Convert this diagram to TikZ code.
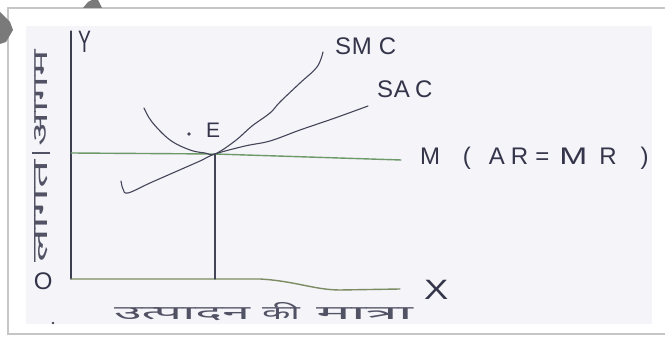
\documentclass[tikz,border=0pt]{standalone}
\usepackage{fontspec}
\setmainfont{Liberation Sans}
\newfontfamily\deva[Script=Devanagari]{Noto Sans}
\definecolor{pencil}{HTML}{45455A}
\definecolor{inktext}{HTML}{34344A}
\definecolor{inkgreen}{HTML}{6E9A6A}
\definecolor{axisgreen}{HTML}{7C8C62}
\definecolor{papertint}{HTML}{F4F4F9}
\definecolor{edgegray}{HTML}{C6C6C6}
\definecolor{shadow}{HTML}{7A7A7A}
\tikzset{
  curve/.style={draw=pencil, line width=1.1pt, line cap=round, line join=round},
  axisline/.style={draw=pencil!90!black, line width=1.3pt, line cap=round},
  mline/.style={draw=inkgreen, line width=1.4pt, line cap=round},
  xline/.style={draw=axisgreen, line width=1.4pt, line cap=round},
  hand/.style={inner sep=0pt, outer sep=0pt, text=inktext, anchor=base west},
  devtext/.style={inner sep=0pt, outer sep=0pt, text=inktext!85, anchor=base west}
}
\begin{document}
\begin{tikzpicture}[x=1pt,y=-1pt]
\useasboundingbox (0,0) rectangle (665,339);
% paper and scan
\fill[white] (0,0) rectangle (665,339);
\fill[papertint] (26,26) rectangle (652,324);
\draw[edgegray, line width=1.6pt] (665,8) -- (8,8) -- (8,334) -- (665,334);
\fill[shadow] (0,12) -- (10,22) -- (13,30) -- (6,42) -- (0,44) -- cycle;
\fill[shadow] (83,8) -- (88,2) -- (92,0) -- (98,0) -- (102,8) -- cycle;

% key points
\coordinate (O) at (71,279);
\coordinate (Ytop) at (71,31);
\coordinate (E) at (215,154);
\coordinate (Mstart) at (71,153);
\coordinate (Mend) at (401,160);
\coordinate (Xbend) at (260,279);
\coordinate (Xend) at (400,289);
\coordinate (Efoot) at (215,279);

% axes
\draw[axisline] (Ytop) -- (O);
\draw[xline] (O) -- (Xbend) .. controls (295,281) and (315,290) .. (340,290) -- (Xend);

% price line M (AR = MR)
\draw[mline] (Mstart) -- (E) -- (Mend);
% drop line
\draw[curve, line width=1.3pt] (E) -- (Efoot);

% SMC
\draw[curve] plot[smooth, tension=0.6] coordinates {(144,108) (152,122) (170,140) (190,150) (205,153) (215,154) (235,141) (252,126) (270,113) (280,102) (300,83) (317,67) (323,52)};
% SAC
\draw[curve] plot[smooth, tension=0.6] coordinates {(121,181) (123,189) (128,193) (150,183) (175,172) (200,161) (215,154) (245,146) (270,141) (300,130) (335,118) (368,106)};

% dots
\fill[pencil] (189,134) circle (1.8pt);
\fill[pencil] (53,323) circle (1.3pt);

% labels
\node[hand, font=\fontsize{31}{31}\selectfont] (ylab) at (78,53) {\scalebox{0.62}[1]{Y}};
\node[hand, font=\fontsize{28}{28}\selectfont] (xlab) at (424,300) {\scalebox{1.3}[1]{X}};
\node[hand, font=\fontsize{24}{24}\selectfont] (olab) at (34,290) {O};
\node[hand, font=\fontsize{21}{21}\selectfont] (elab) at (206,138) {E};
\node[hand, font=\fontsize{24}{24}\selectfont] (smc) at (335,55) {S\hspace{1pt}M\hspace{7pt}C};
\node[hand, font=\fontsize{24}{24}\selectfont] (sac) at (377,98) {S\hspace{1pt}A\hspace{5pt}C};
\node[hand, font=\fontsize{24}{24}\selectfont] (mlab) at (420,165) {M\hspace{23pt}(\hspace{18pt}A\hspace{6pt}R\hspace{7pt}=\hspace{10pt}\scalebox{1.4}[1]{M}\hspace{12pt}R\hspace{24pt})};

% Devanagari axis labels
\node[devtext, font=\fontsize{19}{19}\selectfont] (w1) at (114,320) {\resizebox{136pt}{\height}{\deva उत्पादन}};
\node[devtext, font=\fontsize{19}{19}\selectfont] (w2) at (262,320) {\resizebox{38pt}{\height}{\deva की}};
\node[devtext, font=\fontsize{19}{19}\selectfont] (w3) at (316,320) {\resizebox{97pt}{\height}{\deva मात्रा}};

\node[devtext, rotate=90, font=\fontsize{12}{12}\selectfont] (v1) at (48,263) {\resizebox{103pt}{13pt}{\deva लागत}};
\node[devtext, rotate=90, font=\fontsize{12}{12}\selectfont] (v2) at (48,147) {\resizebox{97pt}{13pt}{\deva आगम}};
\draw[draw=inktext!85, line width=1.2pt] (32,153) -- (50,153);
\end{tikzpicture}
\end{document}
